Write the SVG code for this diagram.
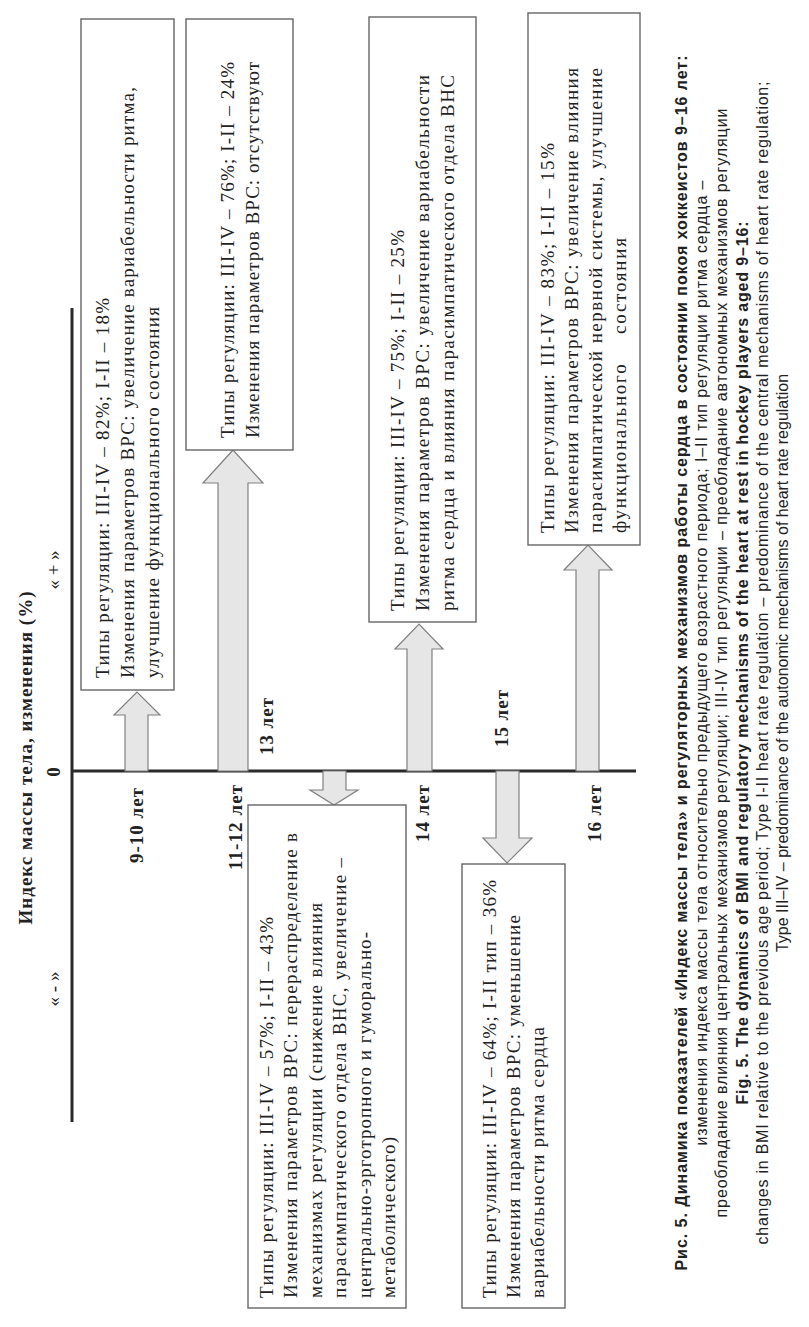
<svg xmlns="http://www.w3.org/2000/svg" width="809" height="1327" viewBox="0 0 809 1327">
<style>
.box{fill:#fff;stroke:#666;stroke-width:1.4}
.arr{fill:#e6e6e6;stroke:#808080;stroke-width:1.2}
.axis{stroke:#2a2a2a;stroke-width:3;fill:none}
.t{font-family:"Liberation Serif","Times New Roman",serif;font-size:19px;fill:#222}
.b{font-family:"Liberation Serif","Times New Roman",serif;font-size:19px;font-weight:bold;fill:#222}
.c{font-family:"Liberation Sans",Arial,sans-serif;font-size:16px;fill:#222}
.cb{font-family:"Liberation Sans",Arial,sans-serif;font-size:16px;font-weight:bold;fill:#222}
</style>
<rect width="809" height="1327" fill="#fff"/>
<g transform="translate(0,1327) rotate(-90)">
  <g id="axes">
    <line class="axis" x1="205" y1="72" x2="1019" y2="72"/>
    <line class="axis" x1="556" y1="72" x2="556" y2="636"/>
    <text class="b" x="569" y="32" text-anchor="middle" textLength="333" lengthAdjust="spacing">Индекс массы тела, изменения (%)</text>
    <text class="b" x="555" y="60" text-anchor="middle">0</text>
    <text class="t" x="757" y="60" text-anchor="middle">« + »</text>
    <text class="t" x="338" y="60" text-anchor="middle">« - »</text>
  </g>
  <g id="age-labels">
    <text class="b" x="464" y="143" textLength="75" lengthAdjust="spacing">9-10 лет</text>
    <text class="b" x="457" y="242" textLength="85" lengthAdjust="spacing">11-12 лет</text>
    <text class="b" x="572" y="273" textLength="57" lengthAdjust="spacing">13 лет</text>
    <text class="b" x="485" y="429" textLength="57" lengthAdjust="spacing">14 лет</text>
    <text class="b" x="580" y="508" textLength="57" lengthAdjust="spacing">15 лет</text>
    <text class="b" x="485" y="601" textLength="57" lengthAdjust="spacing">16 лет</text>
  </g>
  <g id="connectors">
    <polygon class="arr" points="556,125 612,125 612,114 635,137 612,160 612,148 556,148"/>
    <polygon class="arr" points="556,218 844,218 844,203 877,233 844,263 844,248 556,248"/>
    <polygon class="arr" points="556,407 678,407 678,395 703,419 678,443 678,432 556,432"/>
    <polygon class="arr" points="556,576 757,576 757,564 782,588 757,612 757,599 556,599"/>
    <polygon class="arr" points="556,323 537,323 537,310 522,334 537,358 537,346 556,346"/>
    <polygon class="arr" points="556,496 489,496 489,483 464,507 489,532 489,519 556,519"/>
  </g>
  <g id="box-9-10">
    <rect class="box" x="637" y="81" width="671" height="93"/>
    <text class="t" x="649" y="109" textLength="380" lengthAdjust="spacing">Типы регуляции: III-IV – 82%; I-II – 18%</text>
    <text class="t" x="649" y="134" textLength="591" lengthAdjust="spacing">Изменения параметров ВРС: увеличение вариабельности ритма,</text>
    <text class="t" x="649" y="159" textLength="371" lengthAdjust="spacing">улучшение функционального состояния</text>
  </g>
  <g id="box-11-12">
    <rect class="box" x="877" y="186" width="431" height="107"/>
    <text class="t" x="889" y="234" textLength="376" lengthAdjust="spacing">Типы регуляции: III-IV – 76%; I-II – 24%</text>
    <text class="t" x="889" y="259" textLength="376" lengthAdjust="spacing">Изменения параметров ВРС: отсутствуют</text>
  </g>
  <g id="box-14">
    <rect class="box" x="705" y="369" width="605" height="107"/>
    <text class="t" x="716" y="404" textLength="381" lengthAdjust="spacing">Типы регуляции: III-IV – 75%; I-II – 25%</text>
    <text class="t" x="716" y="429" textLength="536" lengthAdjust="spacing">Изменения параметров ВРС: увеличение вариабельности</text>
    <text class="t" x="716" y="454" textLength="536" lengthAdjust="spacing">ритма сердца и влияния парасимпатического отдела ВНС</text>
  </g>
  <g id="box-16">
    <rect class="box" x="782" y="528" width="532" height="112"/>
    <text class="t" x="794" y="554" textLength="390" lengthAdjust="spacing">Типы регуляции: III-IV – 83%; I-II – 15%</text>
    <text class="t" x="794" y="578" textLength="465" lengthAdjust="spacing">Изменения параметров ВРС: увеличение влияния</text>
    <text class="t" x="794" y="602" textLength="465" lengthAdjust="spacing">парасимпатической нервной системы, улучшение</text>
    <text class="t" x="794" y="626" word-spacing="22" textLength="295" lengthAdjust="spacing">функционального состояния</text>
  </g>
  <g id="box-13">
    <rect class="box" x="19" y="248" width="503" height="158"/>
    <text class="t" x="29" y="272.5" textLength="381" lengthAdjust="spacing">Типы регуляции: III-IV – 57%; I-II – 43%</text>
    <text class="t" x="29" y="297" textLength="465" lengthAdjust="spacing">Изменения параметров ВРС: перераспределение в</text>
    <text class="t" x="29" y="321.5" textLength="395" lengthAdjust="spacing">механизмах регуляции (снижение влияния</text>
    <text class="t" x="29" y="346" textLength="440" lengthAdjust="spacing">парасимпатического отдела ВНС, увеличение –</text>
    <text class="t" x="29" y="370.5" textLength="366" lengthAdjust="spacing">центрально-эрготропного и гуморально-</text>
    <text class="t" x="29" y="395" textLength="161" lengthAdjust="spacing">метаболического)</text>
  </g>
  <g id="box-15">
    <rect class="box" x="19" y="462" width="444" height="103"/>
    <text class="t" x="29" y="496" textLength="418" lengthAdjust="spacing">Типы регуляции: III-IV – 64%; I-II тип – 36%</text>
    <text class="t" x="29" y="520" textLength="383" lengthAdjust="spacing">Изменения параметров ВРС: уменьшение</text>
    <text class="t" x="29" y="544" textLength="271" lengthAdjust="spacing">вариабельности ритма сердца</text>
  </g>
  <g id="caption">
    <text class="cb" x="664" y="687" text-anchor="middle" textLength="1215" lengthAdjust="spacing">Рис. 5. Динамика показателей «Индекс массы тела» и регуляторных механизмов работы сердца в состоянии покоя хоккеистов 9–16 лет:</text>
    <text class="c" x="664" y="707" text-anchor="middle" textLength="965" lengthAdjust="spacing">изменения индекса массы тела относительно предыдущего возрастного периода; I–II тип регуляции ритма сердца –</text>
    <text class="c" x="664" y="727" text-anchor="middle" textLength="1109" lengthAdjust="spacing">преобладание влияния центральных механизмов регуляции; III-IV тип регуляции – преобладание автономных механизмов регуляции</text>
    <text class="cb" x="664" y="748" text-anchor="middle" textLength="883" lengthAdjust="spacing">Fig. 5. The dynamics of BMI and regulatory mechanisms of the heart at rest in hockey players aged 9–16:</text>
    <text class="c" x="664" y="768" text-anchor="middle" textLength="1163" lengthAdjust="spacing">changes in BMI relative to the previous age period; Type I-II heart rate regulation – predominance of the central mechanisms of heart rate regulation;</text>
    <text class="c" x="664" y="788" text-anchor="middle">Type III–IV – predominance of the autonomic mechanisms of heart rate regulation</text>
  </g>
</g>
</svg>
